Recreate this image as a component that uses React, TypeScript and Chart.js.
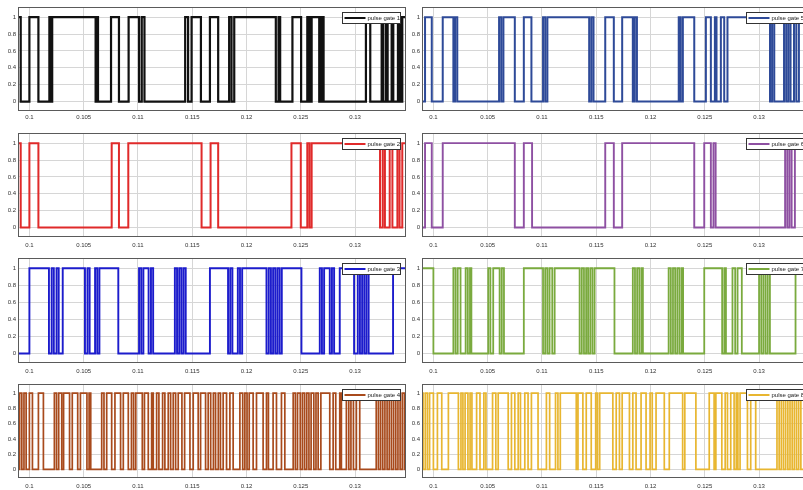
import React, { useEffect, useRef } from "react";
import { Chart, registerables } from "chart.js";

Chart.register(...registerables);

// ---- axis data (time in ms on the axis, labelled in seconds) ----
const xTickValues = [100, 105, 110, 115, 120, 125, 130];
const xTickLabels = ["0.1", "0.105", "0.11", "0.115", "0.12", "0.125", "0.13"];
const yTickValues = [0, 0.2, 0.4, 0.6, 0.8, 1];
const yTickLabels = ["0", "0.2", "0.4", "0.6", "0.8", "1"];
const xRange = [98.95, 134.6];
const yRange = [-0.1, 1.12];

const gateLabels = [
  "pulse gate 1", "pulse gate 2", "pulse gate 3", "pulse gate 4",
  "pulse gate 5", "pulse gate 6", "pulse gate 7", "pulse gate 8",
];

// ---- pulses: [rise time, fall time] in ms ----
const gate1Pulses = [
  [98.5, 99.2], [100.0, 100.83], [101.84, 101.96], [102.1, 106.1], [106.22, 106.32],
  [107.52, 108.25], [109.14, 110.1], [110.35, 110.6], [114.35, 114.62], [114.94, 115.8],
  [116.63, 117.39], [118.4, 118.62], [118.87, 122.7], [122.95, 123.1], [124.23, 125.03],
  [125.6, 125.8], [126.0, 126.7], [126.9, 127.1], [131.0, 131.4], [132.45, 132.6],
  [132.85, 133.0], [133.37, 133.52], [133.95, 134.15], [134.35, 136],
];
const gate2Pulses = [
  [98.5, 99.2], [100.0, 100.83], [107.58, 108.25], [109.11, 115.86], [116.69, 117.39],
  [124.14, 125.0], [125.6, 125.8], [126.0, 132.3], [132.55, 132.75], [133.19, 133.44],
  [133.9, 134.1], [134.35, 136],
];
const gate3Pulses = [
  [100.0, 101.8], [102.05, 102.25], [102.5, 102.7], [103.07, 105.12], [105.35, 105.55],
  [106.05, 106.25], [106.45, 108.19], [110.1, 110.3], [110.5, 110.98], [111.2, 111.4],
  [113.4, 113.6], [113.8, 114.0], [114.2, 114.4], [116.63, 118.3], [118.5, 118.7],
  [119.2, 119.4], [119.6, 121.84], [122.05, 122.25], [122.45, 122.65], [122.85, 123.05],
  [123.25, 125.06], [126.75, 126.95], [127.15, 127.67], [127.87, 128.07], [128.59, 129.91],
  [130.25, 130.45], [130.65, 130.85], [131.05, 131.25], [133.5, 136],
];
const gate4Pulses = [
  [99.1, 99.3], [99.5, 99.7], [100.0, 100.28], [100.83, 101.29], [102.3, 102.5],
  [102.7, 102.98], [103.15, 103.7], [103.95, 104.45], [104.7, 105.3], [105.5, 105.65],
  [106.66, 106.87], [107.12, 107.58], [107.88, 108.4], [108.65, 109.11], [109.4, 109.6],
  [109.8, 110.4], [110.6, 110.95], [111.26, 111.41], [111.72, 111.93], [112.27, 112.48],
  [112.79, 113.01], [113.25, 113.47], [113.71, 114.05], [114.3, 114.79], [115.09, 115.55],
  [115.77, 116.23], [116.47, 116.7], [116.95, 117.15], [117.4, 117.6], [117.85, 118.16],
  [118.47, 118.77], [119.39, 119.65], [119.85, 120.05], [120.25, 120.61], [120.92, 121.53],
  [121.84, 122.02], [122.45, 122.76], [123.22, 123.53], [124.3, 124.5], [124.7, 124.95],
  [125.15, 125.35], [125.55, 125.75], [125.95, 126.2], [126.4, 126.6], [126.85, 127.67],
  [127.98, 128.22], [128.59, 128.74], [129.2, 129.42], [129.62, 129.85], [130.12, 130.43],
  [131.95, 132.15], [132.35, 132.55], [132.75, 132.95], [133.15, 133.35], [133.55, 133.75],
  [133.95, 134.15], [134.35, 134.55],
];
const gate5Pulses = [
  [99.23, 99.85], [100.86, 101.84], [102.0, 102.2], [106.05, 106.25], [106.45, 107.5],
  [108.33, 109.03], [110.1, 110.3], [110.5, 114.35], [114.55, 114.75], [115.83, 116.62],
  [117.39, 118.37], [118.55, 118.75], [122.6, 122.78], [122.98, 124.03], [125.1, 125.56],
  [125.93, 126.08], [126.48, 126.79], [127.09, 131.01], [131.2, 131.4], [132.3, 132.5],
  [132.7, 132.9], [133.22, 133.43], [133.67, 136],
];
const gate6Pulses = [
  [99.23, 99.85], [100.86, 107.5], [108.33, 109.09], [115.83, 116.62], [117.39, 124.03],
  [124.95, 125.56], [125.8, 126.0], [132.4, 132.6], [132.8, 133.0], [133.3, 136],
];
const gate7Pulses = [
  [98.5, 100.0], [101.84, 102.04], [102.24, 102.5], [102.97, 103.17], [103.37, 103.5],
  [105.05, 105.25], [105.51, 106.1], [106.3, 106.5], [108.33, 110.1], [110.3, 110.5],
  [110.7, 110.95], [111.17, 113.47], [113.67, 113.87], [114.07, 114.25], [114.45, 114.65],
  [114.85, 116.68], [118.37, 118.57], [118.77, 118.97], [119.17, 119.3], [121.67, 121.87],
  [122.07, 122.27], [122.47, 122.67], [122.87, 123.0], [124.95, 126.6], [126.8, 126.95],
  [127.55, 127.8], [128.02, 128.41], [130.0, 130.2], [130.4, 130.6], [130.8, 131.0],
  [133.36, 136],
];
const gate8Pulses = [
  [98.5, 99.05], [99.25, 99.45], [99.65, 100.0], [100.37, 100.77], [101.38, 102.3],
  [102.54, 102.72], [102.92, 103.18], [103.38, 103.55], [103.98, 104.29], [104.65, 104.84],
  [105.45, 105.75], [105.97, 106.89], [107.19, 107.5], [107.81, 108.02], [108.42, 108.72],
  [109.03, 109.64], [110.41, 110.71], [111.25, 111.47], [111.69, 113.16], [113.32, 113.77],
  [114.08, 114.54], [114.95, 115.12], [115.32, 116.53], [116.84, 117.14], [117.39, 118.06],
  [118.37, 118.67], [119.13, 119.59], [119.96, 120.16], [120.51, 121.27], [121.73, 122.96],
  [123.16, 124.18], [125.41, 125.86], [126.02, 126.57], [126.88, 127.09], [127.39, 127.7],
  [127.9, 128.05], [128.25, 128.93], [129.23, 129.69], [131.65, 131.85], [132.05, 132.25],
  [132.45, 132.65], [132.85, 133.05], [133.25, 133.45], [133.65, 133.85],
];

const gatePulses = [
  gate1Pulses, gate2Pulses, gate3Pulses, gate4Pulses,
  gate5Pulses, gate6Pulses, gate7Pulses, gate8Pulses,
];

// ---- styles ----
const gateColors = [
  "#111111", "#e02a2a", "#1c1ccc", "#a84a1c",
  "#2e4a98", "#8e50a2", "#7aaa3e", "#e8b630",
];
const gateWidths = [2.2, 2, 1.9, 1.7, 2, 1.9, 1.8, 1.7];

// ---- layout (positions only) ----
const AREA_TOPS = [7, 133, 258, 384];
const AREA_HEIGHTS = [103, 103, 104, 93];
const LABEL_PAD = [4, 6, 6, 6];
const PAD_TOP = 7;
const X_AXIS_H = 16;
const Y_AXIS_W = 18;
const CANVAS_W = 410;
const COL_LEFT = [0, 404];
const FONT = '"Liberation Sans", Arial, Helvetica, sans-serif';

function toSteps(pulses: number[][]) {
  const pts: { x: number; y: number }[] = [{ x: 97, y: 0 }];
  for (const [r, f] of pulses) {
    pts.push({ x: r, y: 1 });
    pts.push({ x: f, y: 0 });
  }
  pts.push({ x: 137, y: 0 });
  return pts;
}

const frameLegendPlugin = {
  id: "frameLegend",
  afterDatasetsDraw(chart: any) {
    const { ctx, chartArea: a } = chart;
    ctx.save();
    const l = Math.round(a.left) + 0.5;
    const t = Math.round(a.top) + 0.5;
    const w = Math.round(a.right) - Math.round(a.left);
    const h = Math.round(a.bottom) - Math.round(a.top);
    ctx.strokeStyle = "#5a5a5a";
    ctx.lineWidth = 1;
    ctx.strokeRect(l, t, w, h);

    const ds = chart.data.datasets[0];
    const bw = 58;
    const bh = 11;
    const bx = Math.round(a.right) - 63 + 0.5;
    const by = Math.round(a.top) + 5 + 0.5;
    ctx.fillStyle = "#ffffff";
    ctx.fillRect(bx, by, bw, bh);
    ctx.strokeStyle = "#333333";
    ctx.lineWidth = 1;
    ctx.strokeRect(bx, by, bw, bh);
    ctx.strokeStyle = ds.borderColor;
    ctx.lineWidth = 2;
    ctx.beginPath();
    ctx.moveTo(bx + 2, by + bh / 2);
    ctx.lineTo(bx + 23, by + bh / 2);
    ctx.stroke();
    ctx.fillStyle = "#222222";
    ctx.font = `6px ${FONT}`;
    ctx.textBaseline = "middle";
    ctx.textAlign = "left";
    ctx.fillText(ds.label, bx + 25, by + bh / 2 + 0.5);
    ctx.restore();
  },
};

function makeConfig(i: number): any {
  const row = i % 4;
  return {
    type: "line",
    data: {
      datasets: [
        {
          label: gateLabels[i],
          data: toSteps(gatePulses[i]),
          stepped: true,
          borderColor: gateColors[i],
          borderWidth: gateWidths[i],
          pointRadius: 0,
          fill: false,
          tension: 0,
        },
      ],
    },
    options: {
      animation: false,
      responsive: false,
      devicePixelRatio: 1,
      events: [],
      layout: { padding: { top: PAD_TOP, right: 5, left: 0, bottom: 0 } },
      plugins: {
        legend: { display: false },
        tooltip: { enabled: false },
        title: { display: false },
      },
      scales: {
        x: {
          type: "linear",
          min: xRange[0],
          max: xRange[1],
          afterBuildTicks: (s: any) => {
            s.ticks = xTickValues.map((v) => ({ value: v }));
          },
          afterFit: (s: any) => {
            s.height = X_AXIS_H;
          },
          ticks: {
            autoSkip: false,
            maxRotation: 0,
            minRotation: 0,
            padding: LABEL_PAD[row],
            color: "#333333",
            font: { family: FONT, size: 6 },
            callback: (v: number) => {
              const k = xTickValues.indexOf(v);
              return k >= 0 ? xTickLabels[k] : "";
            },
          },
          grid: { color: "#d6d6d6", lineWidth: 1, drawTicks: false },
          border: { display: false },
        },
        y: {
          type: "linear",
          min: yRange[0],
          max: yRange[1],
          afterBuildTicks: (s: any) => {
            s.ticks = yTickValues.map((v) => ({ value: v }));
          },
          afterFit: (s: any) => {
            s.width = Y_AXIS_W;
          },
          ticks: {
            autoSkip: false,
            padding: 2,
            color: "#333333",
            font: { family: FONT, size: 6 },
            callback: (v: number) => {
              const k = yTickValues.indexOf(v);
              return k >= 0 ? yTickLabels[k] : "";
            },
          },
          grid: { color: "#d6d6d6", lineWidth: 1, drawTicks: false },
          border: { display: false },
        },
      },
    },
    plugins: [frameLegendPlugin],
  };
}

const PANELS = gateLabels.map((_, i) => {
  const col = i < 4 ? 0 : 1;
  const row = i % 4;
  return {
    left: COL_LEFT[col],
    top: AREA_TOPS[row] - PAD_TOP,
    w: CANVAS_W,
    h: PAD_TOP + AREA_HEIGHTS[row] + X_AXIS_H,
  };
});

export default function App() {
  const refs = useRef<(HTMLCanvasElement | null)[]>([]);
  useEffect(() => {
    const charts = PANELS.map((_, i) => new Chart(refs.current[i] as HTMLCanvasElement, makeConfig(i)));
    return () => charts.forEach((c) => c.destroy());
  }, []);
  return (
    <div
      style={{
        position: "absolute",
        left: 0,
        top: 0,
        width: 803,
        height: 490,
        overflow: "hidden",
        background: "#ffffff",
      }}
    >
      {PANELS.map((p, i) => (
        <canvas
          key={i}
          ref={(el) => {
            refs.current[i] = el;
          }}
          width={p.w}
          height={p.h}
          style={{ position: "absolute", left: p.left, top: p.top, width: p.w, height: p.h }}
        />
      ))}
    </div>
  );
}
